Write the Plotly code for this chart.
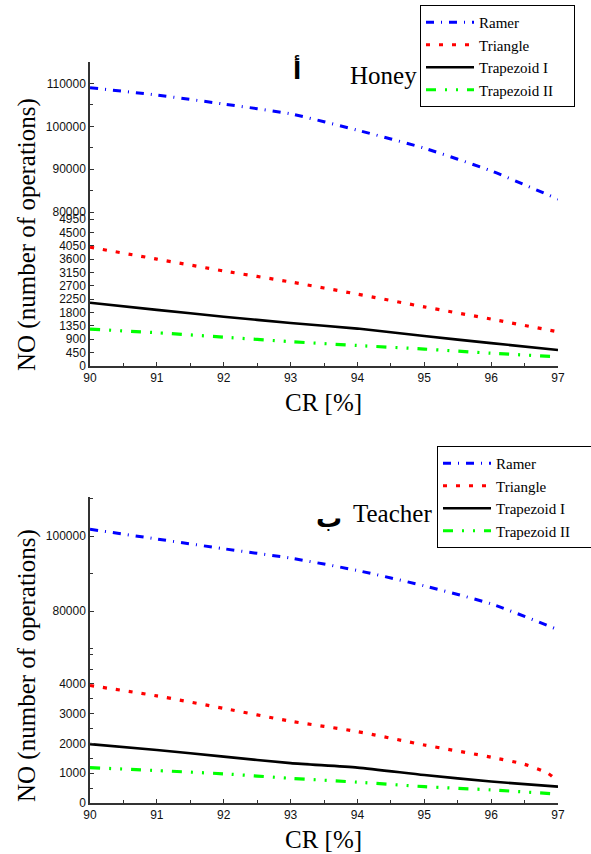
import plotly.graph_objects as go

W, H = 591, 854

cr = [90, 91, 92, 93, 94, 95, 96, 97]

# Panel (a) Honey
honey_ramer = [109000, 107300, 105200, 102900, 99100, 94900, 89600, 83000]
honey_triangle = [4000, 3600, 3200, 2830, 2420, 1990, 1580, 1150]
honey_trap1 = [2130, 1890, 1660, 1450, 1260, 1010, 770, 540]
honey_trap2 = [1240, 1120, 970, 820, 690, 570, 430, 310]

# Panel (b) Teacher
teacher_ramer = [101800, 99200, 96600, 94100, 90800, 86700, 81900, 75000]
teacher_tri_cr = [90, 91, 92, 93, 94, 95, 96, 96.5, 96.85, 97]
teacher_triangle = [3950, 3600, 3180, 2750, 2400, 1950, 1540, 1300, 1000, 720]
teacher_trap1 = [1980, 1780, 1560, 1340, 1190, 940, 720, 550]
teacher_trap2 = [1190, 1090, 980, 830, 700, 550, 440, 300]

series_names = ["Ramer", "Triangle", "Trapezoid I", "Trapezoid II"]
colors = ["#0000ff", "#ff0000", "#000000", "#00ff00"]
dashes = ["8px,7px,1px,7px", "4px,9px", "solid", "10px,9px,2px,9px,2px,9px"]
widths = [3, 3.2, 2.6, 3.2]

honey_low_ticks = [0, 450, 900, 1350, 1800, 2250, 2700, 3150, 3600, 4050, 4500, 4950]
honey_up_ticks = [80000, 90000, 100000, 110000]
teacher_low_ticks = [0, 1000, 2000, 3000, 4000]
teacher_up_ticks = [80000, 100000]
x_ticks = [90, 91, 92, 93, 94, 95, 96, 97]


def py(p):
    return 1 - p / H


fig = go.Figure()

panels = [
    dict(x="x", ylow="y", yup="y2", legend="legend",
         data=[(cr, honey_ramer), (cr, honey_triangle), (cr, honey_trap1), (cr, honey_trap2)]),
    dict(x="x2", ylow="y3", yup="y4", legend="legend2",
         data=[(cr, teacher_ramer), (teacher_tri_cr, teacher_triangle), (cr, teacher_trap1), (cr, teacher_trap2)]),
]

pad = "\u00a0" * 4
for p in panels:
    for i, (xs, ys) in enumerate(p["data"]):
        fig.add_trace(go.Scatter(
            x=xs, y=ys, mode="lines", name=series_names[i] + pad,
            line=dict(color=colors[i], dash=dashes[i], width=widths[i], shape="spline", smoothing=0.6),
            xaxis=p["x"], yaxis=p["yup"] if i == 0 else p["ylow"],
            legend=p["legend"], showlegend=True,
        ))

tickfont = dict(family="Liberation Sans, Arial", size=12, color="#111")
axcol = "#333333"
common_y = dict(showline=True, linecolor=axcol, linewidth=1.5, ticks="inside", ticklen=4,
                tickcolor=axcol, tickfont=tickfont, showgrid=False, zeroline=False,
                tickmode="array", tickformat="d")
common_x = dict(showline=True, linecolor=axcol, linewidth=1.5, ticks="inside", ticklen=4,
                tickcolor=axcol, tickfont=tickfont, showgrid=False, zeroline=False,
                tickmode="array", tickvals=x_ticks, range=[90, 97],
                minor=dict(ticks="inside", ticklen=3, tickcolor=axcol,
                           tickvals=[90.5, 91.5, 92.5, 93.5, 94.5, 95.5, 96.5]))

xdom = [90 / W, 558 / W]
legfont = dict(family="Liberation Serif, Times New Roman", size=15, color="black")

fig.update_layout(
    width=W, height=H,
    margin=dict(l=0, r=0, t=0, b=0, autoexpand=False),
    paper_bgcolor="white", plot_bgcolor="white",
    xaxis=dict(domain=xdom, anchor="y", **common_x),
    yaxis=dict(domain=[py(366), py(215.5)], anchor="x", range=[0, 5068], tickvals=honey_low_ticks, **common_y),
    yaxis2=dict(domain=[py(215.5), py(62)], anchor="x", range=[79200, 115000], tickvals=honey_up_ticks,
                minor=dict(ticks="inside", ticklen=3, tickcolor=axcol, dtick=5000), **common_y),
    xaxis2=dict(domain=xdom, anchor="y3", **common_x),
    yaxis3=dict(domain=[py(803), py(651)], anchor="x2", range=[0, 5109], tickvals=teacher_low_ticks,
                minor=dict(ticks="inside", ticklen=3, tickcolor=axcol, dtick=500), **common_y),
    yaxis4=dict(domain=[py(651), py(497)], anchor="x2", range=[69333, 110400], tickvals=teacher_up_ticks,
                minor=dict(ticks="inside", ticklen=3, tickcolor=axcol, dtick=10000), **common_y),
    legend=dict(x=420 / W, y=py(5), xanchor="left", yanchor="top", bordercolor="black", borderwidth=1,
                bgcolor="white", font=legfont, itemwidth=48, tracegroupgap=0),
    legend2=dict(x=437 / W, y=py(446), xanchor="left", yanchor="top", bordercolor="black", borderwidth=1,
                 bgcolor="white", font=legfont, itemwidth=48, tracegroupgap=0),
)

serif = "Liberation Serif, Times New Roman, DejaVu Serif"
ann = []
ann.append(dict(text="NO (number of operations)", x=27 / W, y=py(235), textangle=-90, font=dict(family=serif, size=25, color="black")))
ann.append(dict(text="NO (number of operations)", x=27 / W, y=py(666), textangle=-90, font=dict(family=serif, size=25, color="black")))
ann.append(dict(text="CR [%]", x=323 / W, y=py(402), font=dict(family=serif, size=25, color="black")))
ann.append(dict(text="CR [%]", x=323 / W, y=py(839), font=dict(family=serif, size=25, color="black")))
ann.append(dict(text="Honey", x=383 / W, y=py(76), font=dict(family=serif, size=25, color="black")))
ann.append(dict(text="Teacher", x=392 / W, y=py(513), font=dict(family=serif, size=25, color="black")))
ann.append(dict(text="<b>أ</b>", x=297 / W, y=py(70), font=dict(family="DejaVu Sans, Noto Sans", size=24, color="black")))
ann.append(dict(text="<b>ب</b>", x=329 / W, y=py(518), font=dict(family="DejaVu Sans, Noto Sans", size=26, color="black")))
for a in ann:
    a.update(xref="paper", yref="paper", showarrow=False, xanchor="center", yanchor="middle")
fig.update_layout(annotations=ann)

fig.write_html("out.html", config={"displayModeBar": False},
               post_script="document.body.style.margin='0';document.body.style.overflow='hidden';")
